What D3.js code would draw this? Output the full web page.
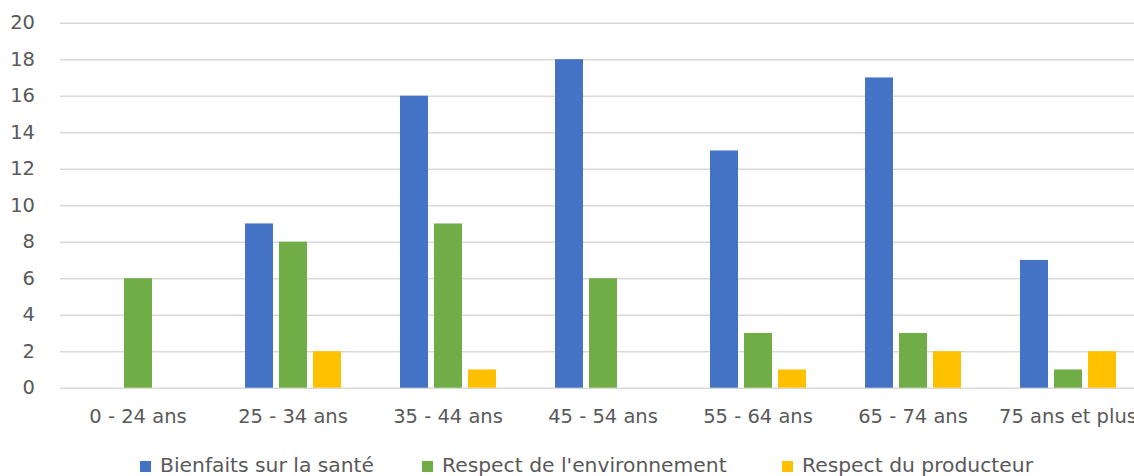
<!DOCTYPE html>
<html><head><meta charset="utf-8">
<script src="https://cdn.jsdelivr.net/npm/d3@7"></script>
<style>body{margin:0;background:#fff}svg{display:block}text{font-family:"DejaVu Sans",sans-serif;fill:#595959}</style>
</head><body><svg id="c" width="1134" height="476"></svg>
<script>
const categories = ["0 - 24 ans","25 - 34 ans","35 - 44 ans","45 - 54 ans","55 - 64 ans","65 - 74 ans","75 ans et plus"];
const seriesNames = ["Bienfaits sur la santé","Respect de l'environnement","Respect du producteur"];
const sante = [0,9,16,18,13,17,7];
const environnement = [6,8,9,6,3,3,1];
const producteur = [0,2,1,0,1,2,2];
const colors = ["#4472C4","#70AD47","#FFC000"];
const yTicks = [0,2,4,6,8,10,12,14,16,18,20];

const FS = "19.5px";
const values = [sante, environnement, producteur];
const svg = d3.select("#c");
const x0 = d3.scaleBand().domain(categories).range([60.5,1145.5]).padding(0);
const x1 = d3.scaleBand().domain(seriesNames).range([0,96]).paddingInner(6/34).paddingOuter(0);
const y = d3.scaleLinear().domain([0,20]).range([387.7,22.7]);

const yAxis = svg.append("g").attr("transform","translate(60,0)")
  .call(d3.axisLeft(y).tickValues(yTicks).tickSize(-1090).tickPadding(25));
yAxis.select(".domain").remove();
yAxis.selectAll("line").attr("stroke","#d9d9d9").attr("stroke-width",1.5);
yAxis.selectAll("text").style("font-size",FS).attr("fill","#595959").attr("font-family","DejaVu Sans");

const groups = svg.append("g").selectAll("g").data(categories).join("g")
  .attr("transform", d => `translate(${x0(d)+x0.bandwidth()/2-48},0)`);
groups.selectAll("rect").data((c,i) => seriesNames.map((s,k)=>({s, v: values[k][i], k})))
  .join("rect")
  .filter(d => d.v > 0)
  .attr("x", d => x1(d.s)).attr("width", x1.bandwidth())
  .attr("y", d => y(d.v)).attr("height", d => y(0)-y(d.v))
  .attr("fill", d => colors[d.k]);

const xAxis = svg.append("g").attr("transform","translate(0,388)")
  .call(d3.axisBottom(x0).tickSize(0).tickPadding(21));
xAxis.select(".domain").remove();
xAxis.selectAll("text").style("font-size",FS).attr("fill","#595959").attr("font-family","DejaVu Sans");

const legX = [140,422,782];
const leg = svg.append("g").selectAll("g").data(seriesNames).join("g")
  .attr("transform",(d,i)=>`translate(${legX[i]},461)`);
leg.append("rect").attr("width",11).attr("height",11).attr("fill",(d,i)=>colors[i]);
leg.append("text").attr("x",20).attr("y",11).style("font-size","20.3px").text(d=>d);
</script></body></html>
